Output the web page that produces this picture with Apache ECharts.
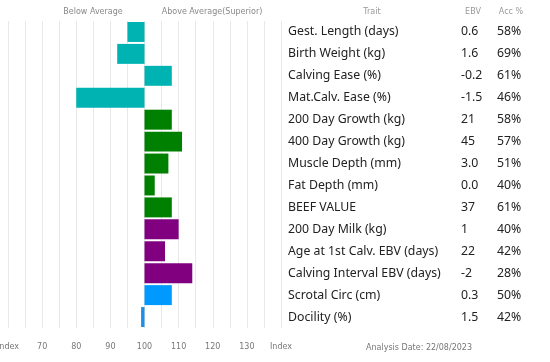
<!DOCTYPE html>
<html>
<head>
<meta charset="utf-8">
<script src="https://cdn.jsdelivr.net/npm/echarts@6/dist/echarts.min.js"></script>
<style>html,body{margin:0;padding:0;background:#fff}#c{width:550px;height:362px}</style>
</head>
<body>
<div id="c"></div>
<script>
const traits = ['Gest. Length (days)','Birth Weight (kg)','Calving Ease (%)','Mat.Calv. Ease (%)','200 Day Growth (kg)','400 Day Growth (kg)','Muscle Depth (mm)','Fat Depth (mm)','BEEF VALUE','200 Day Milk (kg)','Age at 1st Calv. EBV (days)','Calving Interval EBV (days)','Scrotal Circ (cm)','Docility (%)'];
const ebv = ['0.6','1.6','-0.2','-1.5','21','45','3.0','0.0','37','1','22','-2','0.3','1.5'];
const acc = ['58%','69%','61%','46%','58%','57%','51%','40%','61%','40%','42%','28%','50%','42%'];
const indexValues = [95,92,108,80,108,111,107,103,108,110,106,114,108,99];
const barColors = ['#00b3b3','#00b3b3','#00b3b3','#00b3b3','#008000','#008000','#008000','#008000','#008000','#800080','#800080','#800080','#0099ff','#1e8fe6'];
const baseline = 100;
const axisMin = 60, axisMax = 140;
const zoneLabels = ['Below Average','Above Average(Superior)'];
const tableHeaders = ['Trait','EBV','Acc %'];
const footerText = 'Analysis Date: 22/08/2023';
const edgeLabel = 'Index';

const chart = echarts.init(document.getElementById('c'), null, {renderer:'canvas'});
const TF = "'Noto Sans', sans-serif";
const SF = "'DejaVu Sans', sans-serif";
const hdr = function (x, y, text, color) {
  return {type: 'text', x: x, y: y, style: {text: text, font: "8px 'DejaVu Sans'", fill: color, align: 'center', verticalAlign: 'middle'}};
};
chart.setOption({
  animation: false,
  grid: {left: 8, width: 273, top: 21, height: 307, containLabel: false, outerBoundsMode: 'none'},
  xAxis: {
    type: 'value', min: axisMin, max: axisMax, interval: 5,
    axisLine: {show: false}, axisTick: {show: false},
    splitLine: {show: true, lineStyle: {color: '#e8e8e8', width: 1}},
    axisLabel: {
      fontFamily: SF, fontSize: 8, color: '#777', margin: 15,
      showMinLabel: true, showMaxLabel: true, hideOverlap: false,
      formatter: function (v) {
        if (v === axisMin || v === axisMax) return edgeLabel;
        return v % 10 === 0 ? String(v) : '';
      }
    }
  },
  yAxis: {
    type: 'category', inverse: true, position: 'right', data: traits,
    axisLine: {show: false}, axisTick: {show: false}, splitLine: {show: false},
    axisLabel: {
      margin: 7, hideOverlap: false,
      formatter: function (v, i) { return '{t|' + v + '}{e|' + ebv[i] + '}{a|' + acc[i] + '}'; },
      rich: {
        t: {fontFamily: TF, fontSize: 12.3, color: '#222', width: 173, align: 'left'},
        e: {fontFamily: TF, fontSize: 12.3, color: '#222', width: 36, align: 'left'},
        a: {fontFamily: TF, fontSize: 12.3, color: '#222', width: 36, align: 'left'}
      }
    }
  },
  series: [{
    type: 'custom',
    data: indexValues.map(function (v, i) { return [v, i]; }),
    encode: {x: 0, y: 1},
    renderItem: function (params, api) {
      const v = api.value(0), idx = api.value(1);
      const p0 = api.coord([baseline, idx]);
      const p1 = api.coord([v, idx]);
      const band = api.size([0, 1])[1];
      const h = band * 0.91;
      const x = Math.min(p0[0], p1[0]);
      const w = Math.abs(p1[0] - p0[0]);
      return {
        type: 'rect',
        shape: {x: x, y: p0[1] - h / 2, width: w, height: h},
        style: {fill: barColors[idx]}
      };
    }
  }],
  graphic: [
    hdr(93, 12, zoneLabels[0], '#888'),
    hdr(212, 12, zoneLabels[1], '#888'),
    hdr(372, 12, tableHeaders[0], '#999'),
    hdr(473, 12, tableHeaders[1], '#999'),
    hdr(511, 12, tableHeaders[2], '#999'),
    hdr(419, 348, footerText, '#777')
  ]
});
</script>
</body>
</html>
